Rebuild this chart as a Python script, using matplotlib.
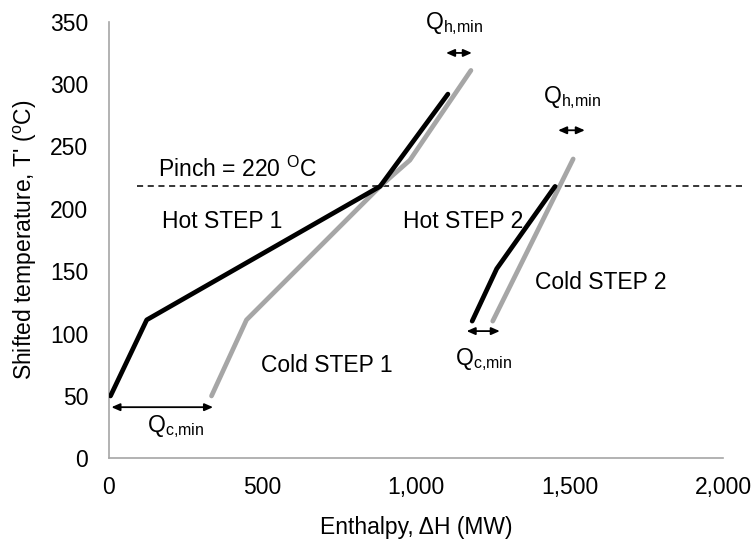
import matplotlib
matplotlib.use("Agg")
import matplotlib.pyplot as plt

plt.rcParams['font.family'] = ['Liberation Sans', 'DejaVu Sans']
plt.rcParams['mathtext.fontset'] = 'custom'
plt.rcParams['mathtext.rm'] = 'Liberation Sans'
plt.rcParams['mathtext.it'] = 'Liberation Sans:italic'

# Data
hot1_H = [5, 123, 883, 1104]
hot1_T = [50, 111, 218, 292]
cold1_H = [334, 448, 883, 980, 1179]
cold1_T = [50, 111, 218, 239, 311]
hot2_H = [1183, 1263, 1453]
hot2_T = [110, 152, 218]
cold2_H = [1250, 1512]
cold2_T = [110, 240]
pinch_T = 218

x_ticks = [0, 500, 1000, 1500, 2000]
x_ticklabels = ["0", "500", "1,000", "1,500", "2,000"]
y_ticks = [0, 50, 100, 150, 200, 250, 300, 350]

black = "#000000"
gray = "#a6a6a6"

fig = plt.figure(figsize=(7.51, 5.44), dpi=100)
ax = fig.add_axes([0.1451, 0.1575, 0.8176, 0.8025])

lw = 3.4
ax.plot(hot1_H, hot1_T, color=black, lw=lw, solid_capstyle='round', solid_joinstyle='round', zorder=3)
ax.plot(cold1_H, cold1_T, color=gray, lw=lw, solid_capstyle='round', solid_joinstyle='round', zorder=2)
ax.plot(hot2_H, hot2_T, color=black, lw=lw, solid_capstyle='round', solid_joinstyle='round', zorder=3)
ax.plot(cold2_H, cold2_T, color=gray, lw=lw, solid_capstyle='round', solid_joinstyle='round', zorder=2)

# pinch line
ax.plot([90, 2065], [pinch_T, pinch_T], color='black', lw=1.1, ls=(0, (4, 3)), clip_on=False, zorder=1)

ax.set_xlim(0, 2000)
ax.set_ylim(0, 350)
ax.set_xticks(x_ticks)
ax.set_xticklabels(x_ticklabels)
ax.set_yticks(y_ticks)
fs = 16.5
ax.tick_params(axis='both', length=0, labelsize=fs, colors='black')
ax.tick_params(axis='y', pad=15)
ax.tick_params(axis='x', pad=13)
for s in ['top', 'right']:
    ax.spines[s].set_visible(False)
for s in ['left', 'bottom']:
    ax.spines[s].set_color(gray)
    ax.spines[s].set_linewidth(1.2)

ax.set_xlabel("Enthalpy, \u0394H (MW)", fontsize=fs, labelpad=12)
ax.set_ylabel("Shifted temperature, T' ($\\mathregular{^{o}}$C)", fontsize=fs, labelpad=8)

ax.text(160, 226, "Pinch = 220 $\\mathregular{^{O}}$C", fontsize=fs, ha='left', va='baseline')
ax.text(173, 185, "Hot STEP 1", fontsize=fs, ha='left', va='baseline')
ax.text(958, 185, "Hot STEP 2", fontsize=fs, ha='left', va='baseline')
ax.text(495, 69, "Cold STEP 1", fontsize=fs, ha='left', va='baseline')
ax.text(1388, 136, "Cold STEP 2", fontsize=fs, ha='left', va='baseline')

arrow_kw = dict(arrowstyle='<|-|>,head_length=0.5,head_width=0.22', color='black', lw=1.3, shrinkA=0, shrinkB=0)
# Q arrows and labels
ax.annotate("", xy=(8, 41), xytext=(339, 41), arrowprops=arrow_kw, annotation_clip=False)
ax.text(123, 21, "Q$\\mathregular{_{c{,}min}}$", fontsize=fs, ha='left', va='baseline')
ax.annotate("", xy=(1165, 102), xytext=(1273, 102), arrowprops=arrow_kw, annotation_clip=False)
ax.text(1127, 75, "Q$\\mathregular{_{c{,}min}}$", fontsize=fs, ha='left', va='baseline')
ax.annotate("", xy=(1098, 325), xytext=(1182, 325), arrowprops=arrow_kw, annotation_clip=False)
ax.text(1029, 344, "Q$\\mathregular{_{h{,}min}}$", fontsize=fs, ha='left', va='baseline')
ax.annotate("", xy=(1463, 263), xytext=(1550, 263), arrowprops=arrow_kw, annotation_clip=False)
ax.text(1413, 284.5, "Q$\\mathregular{_{h{,}min}}$", fontsize=fs, ha='left', va='baseline')

fig.savefig("out.png", dpi=100)
